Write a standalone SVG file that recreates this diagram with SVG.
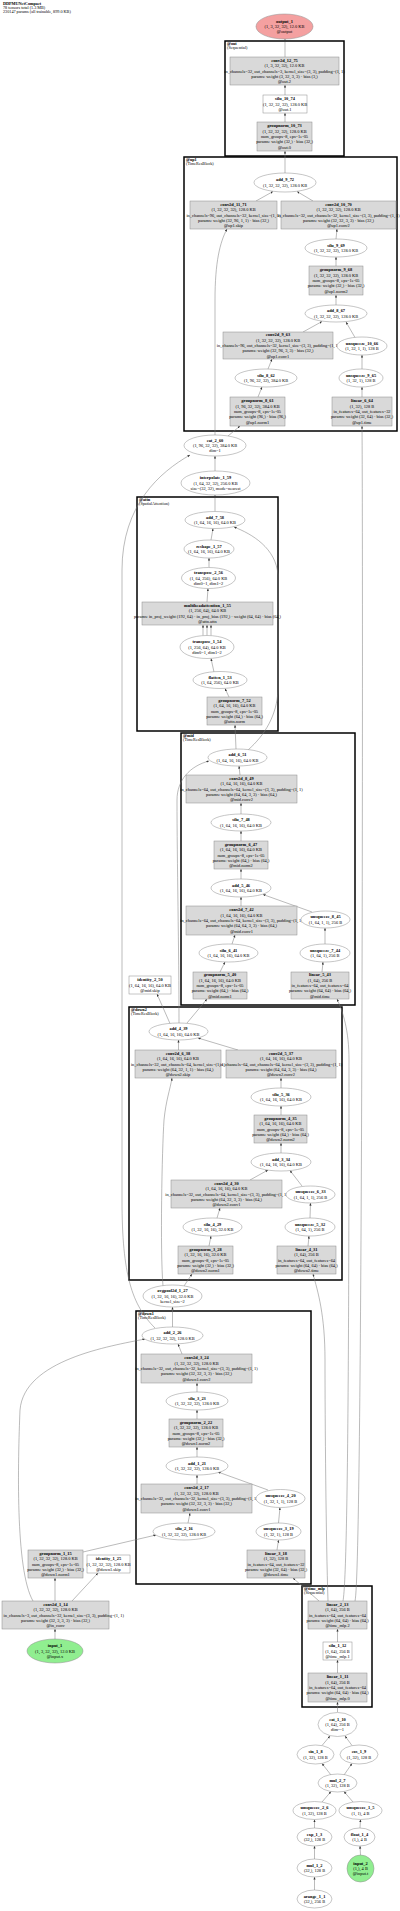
<svg xmlns="http://www.w3.org/2000/svg" width="400" height="1911" viewBox="0 0 400 1911">
<style>
.t{font-family:"Liberation Serif","Times New Roman",serif;font-size:4.4px;text-anchor:middle;fill:#000}
.b{font-weight:bold}
.s{text-anchor:start}
.h{font-family:"Liberation Serif","Times New Roman",serif;font-size:4.2px;fill:#000}
.cl{font-family:"Liberation Serif","Times New Roman",serif;font-size:4.2px;fill:#000}
.box{fill:#d9d9d9;stroke:#8c8c8c;stroke-width:0.5}
.wbox{fill:#ffffff;stroke:#8c8c8c;stroke-width:0.5}
.ell{fill:#ffffff;stroke:#8c8c8c;stroke-width:0.5}
.out{fill:#f4a0a0;stroke:#8c8c8c;stroke-width:0.5}
.inp{fill:#90ee90;stroke:#8c8c8c;stroke-width:0.5}
.clu{fill:none;stroke:#000;stroke-width:1.5}
.e{fill:none;stroke:#777;stroke-width:0.5;marker-end:url(#ah)}
</style>
<defs>
<marker id="ah" markerUnits="userSpaceOnUse" markerWidth="3" markerHeight="3" refX="2.6" refY="1.1" orient="auto">
<path d="M0,0 L2.6,1.1 L0,2.2 z" fill="#333"/>
</marker>
</defs>
<rect width="400" height="1911" fill="#fff"/>
<g id="header">
<text class="h b" x="3" y="4.5">DDPMUNetCompact</text>
<text class="h" x="3" y="8.8">78 tensors total (1.3 MB)</text>
<text class="h" x="3" y="13.1">230147 params (all trainable, 899.0 KB)</text>
</g>
<g id="clusters">
<g id="cluster_out"><rect class="clu" x="225" y="41" width="119" height="115"/><text class="cl b" x="227" y="45">@out</text><text class="cl" x="227" y="49.3">(Sequential)</text></g>
<g id="cluster_up1"><rect class="clu" x="184" y="157" width="213" height="274"/><text class="cl b" x="186" y="161">@up1</text><text class="cl" x="186" y="165.3">(TimeResBlock)</text></g>
<g id="cluster_attn"><rect class="clu" x="137" y="497" width="141" height="234"/><text class="cl b" x="139" y="501">@attn</text><text class="cl" x="139" y="505.3">(SpatialAttention)</text></g>
<g id="cluster_mid"><rect class="clu" x="181" y="733" width="174" height="272"/><text class="cl b" x="183" y="737">@mid</text><text class="cl" x="183" y="741.3">(TimeResBlock)</text></g>
<g id="cluster_down2"><rect class="clu" x="129" y="1007" width="213" height="273"/><text class="cl b" x="131" y="1011">@down2</text><text class="cl" x="131" y="1015.3">(TimeResBlock)</text></g>
<g id="cluster_down1"><rect class="clu" x="136" y="1311" width="175" height="273"/><text class="cl b" x="138" y="1315">@down1</text><text class="cl" x="138" y="1319.3">(TimeResBlock)</text></g>
<g id="cluster_time_mlp"><rect class="clu" x="302" y="1586" width="70" height="121"/><text class="cl b" x="304" y="1590">@time_mlp</text><text class="cl" x="304" y="1594.3">(Sequential)</text></g>
</g>
<g id="connectors">
<path class="e" d="M314.5,1890 L314.5,1877"/>
<path class="e" d="M314.5,1859 L314.5,1846"/>
<path class="e" d="M314.5,1828 L314.5,1819.5"/>
<path class="e" d="M360.5,1855 L360,1846"/>
<path class="e" d="M360,1828 L360.5,1819.5"/>
<path class="e" d="M322,1802 L331,1791.5"/>
<path class="e" d="M353,1802 L344,1791.5"/>
<path class="e" d="M331,1775 L322,1763.5"/>
<path class="e" d="M344,1775 L352,1763.5"/>
<path class="e" d="M322,1745.5 L330,1736"/>
<path class="e" d="M352,1745.5 L345,1736"/>
<path class="e" d="M337.5,1712 L337.5,1702"/>
<path class="e" d="M337.5,1673 L337.5,1660"/>
<path class="e" d="M337.5,1642 L337.5,1629"/>
<path class="e" d="M319,1601 L293,1578"/>
<path class="e" d="M328,1601 C326,1540 325,1420 325,1360 C325,1315 318,1292 313,1274"/>
<path class="e" d="M343,1601 C349,1570 349,1200 349,1060 C349,1030 343,1012 337,999"/>
<path class="e" d="M355,1601 C363,1570 363,520 362,426"/>
<path class="e" d="M55,1639 L55,1629"/>
<path class="e" d="M55,1601 L55,1578"/>
<path class="e" d="M72,1601 L98,1573"/>
<path class="e" d="M33,1601 C15,1570 18,1460 20,1410 C24,1360 110,1346 145,1339"/>
<path class="e" d="M83,1552 L156,1535"/>
<path class="e" d="M188,1523 L190,1513"/>
<path class="e" d="M277,1550 L278.5,1540"/>
<path class="e" d="M278.5,1523 L280,1507.5"/>
<path class="e" d="M197,1484 L197,1475"/>
<path class="e" d="M268,1490 L218,1472"/>
<path class="e" d="M197,1457 L197,1447"/>
<path class="e" d="M197,1419 L197,1410"/>
<path class="e" d="M197,1392 L197,1383"/>
<path class="e" d="M182,1354 L178,1344"/>
<path class="e" d="M172.5,1327 L172.5,1307"/>
<path class="e" d="M155,1328 C132,1305 122,1275 122,1200 L122,570 C122,505 160,472 190,455"/>
<path class="e" d="M184,1286 L192,1274"/>
<path class="e" d="M163,1286 C160,1250 162,1150 164,1120 C166,1100 170,1090 172,1078"/>
<path class="e" d="M209,1246 L211,1236"/>
<path class="e" d="M217,1218 L220,1208"/>
<path class="e" d="M308,1246 L309,1236"/>
<path class="e" d="M310,1218 L310.5,1203"/>
<path class="e" d="M250,1180 L268,1170"/>
<path class="e" d="M302,1186 L290,1170.5"/>
<path class="e" d="M281,1153 L281,1143"/>
<path class="e" d="M281,1115 L281,1106"/>
<path class="e" d="M281,1088 L281,1078"/>
<path class="e" d="M238,1050 L198,1038"/>
<path class="e" d="M178.5,1050 L178.5,1040"/>
<path class="e" d="M187,1023 L207,999"/>
<path class="e" d="M170,1023.5 L157,994"/>
<path class="e" d="M179,1023 C179,950 177,860 177,800 C177,780 190,766 209,761"/>
<path class="e" d="M220,972 L225,962"/>
<path class="e" d="M232,944 L235,935"/>
<path class="e" d="M322,972 L323,962"/>
<path class="e" d="M325,944 L325,928"/>
<path class="e" d="M241,906 L241,897"/>
<path class="e" d="M312,912 L263,894.5"/>
<path class="e" d="M241,879 L241,869"/>
<path class="e" d="M241,841 L241,831"/>
<path class="e" d="M241,814 L241,803"/>
<path class="e" d="M240,775 L239,766"/>
<path class="e" d="M236,749 L235,725"/>
<path class="e" d="M248,750 C265,735 277,715 278,690 L278,575 C276,548 252,534 234,527"/>
<path class="e" d="M229,697 L225,688.5"/>
<path class="e" d="M214,672 L211,658.5"/>
<path class="e" d="M203,635.5 L203,625"/>
<path class="e" d="M207,635.5 L207,625"/>
<path class="e" d="M211,635.5 L211,625"/>
<path class="e" d="M207,602 L208,588.5"/>
<path class="e" d="M209,567.5 L209,558"/>
<path class="e" d="M211,540 L213,528.5"/>
<path class="e" d="M215,511.5 L215,495"/>
<path class="e" d="M215,471 L215,456"/>
<path class="e" d="M228,436 L240,426"/>
<path class="e" d="M215,435 L215,300 C215,262 220,242 227,229"/>
<path class="e" d="M258,397 L262,387"/>
<path class="e" d="M268,369 L272,359"/>
<path class="e" d="M362,397 L362,387"/>
<path class="e" d="M362,369 L362,355"/>
<path class="e" d="M303,332 L322,321.5"/>
<path class="e" d="M355,337.5 L346,322"/>
<path class="e" d="M336,305 L336,295"/>
<path class="e" d="M336,266 L336,257"/>
<path class="e" d="M336,239 L337,229"/>
<path class="e" d="M313,201 L297,191.5"/>
<path class="e" d="M256,201 L273,191.5"/>
<path class="e" d="M285,173 L285,151"/>
<path class="e" d="M285,122 L285,113"/>
<path class="e" d="M285,95 L285,85"/>
<path class="e" d="M285,57 L285,39"/>
</g>
<g id="nodes">
<g id="output_1"><ellipse class="out" cx="284.5" cy="26.5" rx="28.5" ry="12.5"/><text class="t"><tspan class="b" x="284.5" y="22.7">output_1</tspan><tspan x="284.5" y="28">(1, 3, 32, 32), 12.0 KB</tspan><tspan x="284.5" y="33.3">@output</tspan></text></g>
<g id="conv2d_12_75"><rect class="box" x="230" y="57" width="109" height="28"/><text class="t"><tspan class="b" x="284.5" y="61.9">conv2d_12_75</tspan><tspan x="284.5" y="67.2">(1, 3, 32, 32), 12.0 KB</tspan><tspan x="284.5" y="72.5">in_channels=32, out_channels=3, kernel_size=(3, 3), padding=(1, 1)</tspan><tspan x="284.5" y="77.8">params: weight (3, 32, 3, 3) · bias (3,)</tspan><tspan x="284.5" y="83.1">@out.2</tspan></text></g>
<g id="silu_10_74"><rect class="wbox" x="263" y="95" width="44" height="18"/><text class="t"><tspan class="b" x="285" y="100.2">silu_10_74</tspan><tspan x="285" y="105.5">(1, 32, 32, 32), 128.0 KB</tspan><tspan x="285" y="110.8">@out.1</tspan></text></g>
<g id="groupnorm_10_73"><rect class="box" x="257" y="122" width="55" height="29"/><text class="t"><tspan class="b" x="284.5" y="127.4">groupnorm_10_73</tspan><tspan x="284.5" y="132.7">(1, 32, 32, 32), 128.0 KB</tspan><tspan x="284.5" y="138">num_groups=8, eps=1e-05</tspan><tspan x="284.5" y="143.3">params: weight (32,) · bias (32,)</tspan><tspan x="284.5" y="148.6">@out.0</tspan></text></g>
<g id="add_9_72"><ellipse class="ell" cx="285" cy="182.5" rx="31" ry="9.5"/><text class="t"><tspan class="b" x="285" y="181.3">add_9_72</tspan><tspan x="285" y="186.6">(1, 32, 32, 32), 128.0 KB</tspan></text></g>
<g id="conv2d_11_71"><rect class="box" x="190" y="201" width="87" height="28"/><text class="t"><tspan class="b" x="233.5" y="205.9">conv2d_11_71</tspan><tspan x="233.5" y="211.2">(1, 32, 32, 32), 128.0 KB</tspan><tspan x="233.5" y="216.5">in_channels=96, out_channels=32, kernel_size=(1, 1)</tspan><tspan x="233.5" y="221.8">params: weight (32, 96, 1, 1) · bias (32,)</tspan><tspan x="233.5" y="227.1">@up1.skip</tspan></text></g>
<g id="conv2d_10_70"><rect class="box" x="281" y="201" width="115" height="28"/><text class="t"><tspan class="b" x="338.5" y="205.9">conv2d_10_70</tspan><tspan x="338.5" y="211.2">(1, 32, 32, 32), 128.0 KB</tspan><tspan x="338.5" y="216.5">in_channels=32, out_channels=32, kernel_size=(3, 3), padding=(1, 1)</tspan><tspan x="338.5" y="221.8">params: weight (32, 32, 3, 3) · bias (32,)</tspan><tspan x="338.5" y="227.1">@up1.conv2</tspan></text></g>
<g id="silu_9_69"><ellipse class="ell" cx="336" cy="248" rx="31" ry="9"/><text class="t"><tspan class="b" x="336" y="246.8">silu_9_69</tspan><tspan x="336" y="252.1">(1, 32, 32, 32), 128.0 KB</tspan></text></g>
<g id="groupnorm_9_68"><rect class="box" x="309" y="266" width="54" height="29"/><text class="t"><tspan class="b" x="336" y="271.4">groupnorm_9_68</tspan><tspan x="336" y="276.7">(1, 32, 32, 32), 128.0 KB</tspan><tspan x="336" y="282">num_groups=8, eps=1e-05</tspan><tspan x="336" y="287.3">params: weight (32,) · bias (32,)</tspan><tspan x="336" y="292.6">@up1.norm2</tspan></text></g>
<g id="add_8_67"><ellipse class="ell" cx="336" cy="313.5" rx="31" ry="8.5"/><text class="t"><tspan class="b" x="336" y="312.3">add_8_67</tspan><tspan x="336" y="317.6">(1, 32, 32, 32), 128.0 KB</tspan></text></g>
<g id="conv2d_9_63"><rect class="box" x="223" y="332" width="110" height="27"/><text class="t"><tspan class="b" x="278" y="336.4">conv2d_9_63</tspan><tspan x="278" y="341.7">(1, 32, 32, 32), 128.0 KB</tspan><tspan x="278" y="347">in_channels=96, out_channels=32, kernel_size=(3, 3), padding=(1, 1)</tspan><tspan x="278" y="352.3">params: weight (32, 96, 3, 3) · bias (32,)</tspan><tspan x="278" y="357.6">@up1.conv1</tspan></text></g>
<g id="unsqueeze_10_66"><ellipse class="ell" cx="362" cy="346" rx="25" ry="9"/><text class="t"><tspan class="b" x="362" y="344.8">unsqueeze_10_66</tspan><tspan x="362" y="350.1">(1, 32, 1, 1), 128 B</tspan></text></g>
<g id="silu_8_62"><ellipse class="ell" cx="266" cy="378" rx="31" ry="9"/><text class="t"><tspan class="b" x="266" y="376.8">silu_8_62</tspan><tspan x="266" y="382.1">(1, 96, 32, 32), 384.0 KB</tspan></text></g>
<g id="unsqueeze_9_65"><ellipse class="ell" cx="361" cy="378" rx="22" ry="9"/><text class="t"><tspan class="b" x="361" y="376.8">unsqueeze_9_65</tspan><tspan x="361" y="382.1">(1, 32, 1), 128 B</tspan></text></g>
<g id="groupnorm_8_61"><rect class="box" x="230" y="397" width="55" height="29"/><text class="t"><tspan class="b" x="257.5" y="402.4">groupnorm_8_61</tspan><tspan x="257.5" y="407.7">(1, 96, 32, 32), 384.0 KB</tspan><tspan x="257.5" y="413">num_groups=8, eps=1e-05</tspan><tspan x="257.5" y="418.3">params: weight (96,) · bias (96,)</tspan><tspan x="257.5" y="423.6">@up1.norm1</tspan></text></g>
<g id="linear_6_64"><rect class="box" x="332" y="397" width="60" height="29"/><text class="t"><tspan class="b" x="362" y="402.4">linear_6_64</tspan><tspan x="362" y="407.7">(1, 32), 128 B</tspan><tspan x="362" y="413">in_features=64, out_features=32</tspan><tspan x="362" y="418.3">params: weight (32, 64) · bias (32,)</tspan><tspan x="362" y="423.6">@up1.time</tspan></text></g>
<g id="cat_2_60"><ellipse class="ell" cx="215" cy="445.5" rx="31" ry="10.5"/><text class="t"><tspan class="b" x="215" y="441.7">cat_2_60</tspan><tspan x="215" y="447">(1, 96, 32, 32), 384.0 KB</tspan><tspan x="215" y="452.3">dim=1</tspan></text></g>
<g id="interpolate_1_59"><ellipse class="ell" cx="215.5" cy="483" rx="34.5" ry="12"/><text class="t"><tspan class="b" x="215.5" y="479.2">interpolate_1_59</tspan><tspan x="215.5" y="484.5">(1, 64, 32, 32), 256.0 KB</tspan><tspan x="215.5" y="489.8">size=(32, 32), mode=nearest</tspan></text></g>
<g id="add_7_58"><ellipse class="ell" cx="215" cy="520" rx="30" ry="8.5"/><text class="t"><tspan class="b" x="215" y="518.8">add_7_58</tspan><tspan x="215" y="524.1">(1, 64, 16, 16), 64.0 KB</tspan></text></g>
<g id="reshape_1_57"><ellipse class="ell" cx="209" cy="549" rx="25" ry="9"/><text class="t"><tspan class="b" x="209" y="547.8">reshape_1_57</tspan><tspan x="209" y="553.1">(1, 64, 16, 16), 64.0 KB</tspan></text></g>
<g id="transpose_2_56"><ellipse class="ell" cx="208.5" cy="578" rx="27" ry="10.5"/><text class="t"><tspan class="b" x="208.5" y="574.2">transpose_2_56</tspan><tspan x="208.5" y="579.5">(1, 64, 256), 64.0 KB</tspan><tspan x="208.5" y="584.8">dim0=1, dim1=2</tspan></text></g>
<g id="multiheadattention_1_55"><rect class="box" x="142" y="602" width="131" height="23"/><text class="t"><tspan class="b" x="207.5" y="607">multiheadattention_1_55</tspan><tspan x="207.5" y="612.3">(1, 256, 64), 64.0 KB</tspan><tspan x="207.5" y="617.6">params: in_proj_weight (192, 64) · in_proj_bias (192,) · weight (64, 64) · bias (64,)</tspan><tspan x="207.5" y="622.9">@attn.attn</tspan></text></g>
<g id="transpose_1_54"><ellipse class="ell" cx="207" cy="647" rx="27" ry="11.5"/><text class="t"><tspan class="b" x="207" y="643.2">transpose_1_54</tspan><tspan x="207" y="648.5">(1, 256, 64), 64.0 KB</tspan><tspan x="207" y="653.8">dim0=1, dim1=2</tspan></text></g>
<g id="flatten_1_53"><ellipse class="ell" cx="220" cy="680" rx="27" ry="8.5"/><text class="t"><tspan class="b" x="220" y="678.8">flatten_1_53</tspan><tspan x="220" y="684.1">(1, 64, 256), 64.0 KB</tspan></text></g>
<g id="groupnorm_7_52"><rect class="box" x="207" y="697" width="55" height="28"/><text class="t"><tspan class="b" x="234.5" y="701.9">groupnorm_7_52</tspan><tspan x="234.5" y="707.2">(1, 64, 16, 16), 64.0 KB</tspan><tspan x="234.5" y="712.5">num_groups=8, eps=1e-05</tspan><tspan x="234.5" y="717.8">params: weight (64,) · bias (64,)</tspan><tspan x="234.5" y="723.1">@attn.norm</tspan></text></g>
<g id="add_6_51"><ellipse class="ell" cx="237.5" cy="757.5" rx="29.5" ry="8.5"/><text class="t"><tspan class="b" x="237.5" y="756.3">add_6_51</tspan><tspan x="237.5" y="761.6">(1, 64, 16, 16), 64.0 KB</tspan></text></g>
<g id="conv2d_8_49"><rect class="box" x="186" y="775" width="111" height="28"/><text class="t"><tspan class="b" x="241.5" y="779.9">conv2d_8_49</tspan><tspan x="241.5" y="785.2">(1, 64, 16, 16), 64.0 KB</tspan><tspan x="241.5" y="790.5">in_channels=64, out_channels=64, kernel_size=(3, 3), padding=(1, 1)</tspan><tspan x="241.5" y="795.8">params: weight (64, 64, 3, 3) · bias (64,)</tspan><tspan x="241.5" y="801.1">@mid.conv2</tspan></text></g>
<g id="silu_7_48"><ellipse class="ell" cx="241" cy="822.5" rx="30" ry="8.5"/><text class="t"><tspan class="b" x="241" y="821.3">silu_7_48</tspan><tspan x="241" y="826.6">(1, 64, 16, 16), 64.0 KB</tspan></text></g>
<g id="groupnorm_6_47"><rect class="box" x="214" y="841" width="54" height="28"/><text class="t"><tspan class="b" x="241" y="845.9">groupnorm_6_47</tspan><tspan x="241" y="851.2">(1, 64, 16, 16), 64.0 KB</tspan><tspan x="241" y="856.5">num_groups=8, eps=1e-05</tspan><tspan x="241" y="861.8">params: weight (64,) · bias (64,)</tspan><tspan x="241" y="867.1">@mid.norm2</tspan></text></g>
<g id="add_5_46"><ellipse class="ell" cx="241" cy="888" rx="30" ry="9"/><text class="t"><tspan class="b" x="241" y="886.8">add_5_46</tspan><tspan x="241" y="892.1">(1, 64, 16, 16), 64.0 KB</tspan></text></g>
<g id="conv2d_7_42"><rect class="box" x="186" y="906" width="111" height="29"/><text class="t"><tspan class="b" x="241.5" y="911.4">conv2d_7_42</tspan><tspan x="241.5" y="916.7">(1, 64, 16, 16), 64.0 KB</tspan><tspan x="241.5" y="922">in_channels=64, out_channels=64, kernel_size=(3, 3), padding=(1, 1)</tspan><tspan x="241.5" y="927.3">params: weight (64, 64, 3, 3) · bias (64,)</tspan><tspan x="241.5" y="932.6">@mid.conv1</tspan></text></g>
<g id="unsqueeze_8_45"><ellipse class="ell" cx="325.5" cy="919.5" rx="24.5" ry="8.5"/><text class="t"><tspan class="b" x="325.5" y="918.3">unsqueeze_8_45</tspan><tspan x="325.5" y="923.6">(1, 64, 1, 1), 256 B</tspan></text></g>
<g id="silu_6_41"><ellipse class="ell" cx="228.5" cy="953" rx="29.5" ry="9"/><text class="t"><tspan class="b" x="228.5" y="951.8">silu_6_41</tspan><tspan x="228.5" y="957.1">(1, 64, 16, 16), 64.0 KB</tspan></text></g>
<g id="unsqueeze_7_44"><ellipse class="ell" cx="325" cy="953" rx="25" ry="9"/><text class="t"><tspan class="b" x="325" y="951.8">unsqueeze_7_44</tspan><tspan x="325" y="957.1">(1, 64, 1), 256 B</tspan></text></g>
<g id="groupnorm_5_40"><rect class="box" x="193" y="972" width="54" height="27"/><text class="t"><tspan class="b" x="220" y="976.4">groupnorm_5_40</tspan><tspan x="220" y="981.7">(1, 64, 16, 16), 64.0 KB</tspan><tspan x="220" y="987">num_groups=8, eps=1e-05</tspan><tspan x="220" y="992.3">params: weight (64,) · bias (64,)</tspan><tspan x="220" y="997.6">@mid.norm1</tspan></text></g>
<g id="linear_5_43"><rect class="box" x="291" y="972" width="58" height="27"/><text class="t"><tspan class="b" x="320" y="976.4">linear_5_43</tspan><tspan x="320" y="981.7">(1, 64), 256 B</tspan><tspan x="320" y="987">in_features=64, out_features=64</tspan><tspan x="320" y="992.3">params: weight (64, 64) · bias (64,)</tspan><tspan x="320" y="997.6">@mid.time</tspan></text></g>
<g id="identity_2_50"><rect class="wbox" x="129" y="976" width="42" height="18"/><text class="t"><tspan class="b" x="150" y="981.2">identity_2_50</tspan><tspan x="150" y="986.5">(1, 64, 16, 16), 64.0 KB</tspan><tspan x="150" y="991.8">@mid.skip</tspan></text></g>
<g id="add_4_39"><ellipse class="ell" cx="178.5" cy="1031.5" rx="29.5" ry="8.5"/><text class="t"><tspan class="b" x="178.5" y="1030.3">add_4_39</tspan><tspan x="178.5" y="1035.6">(1, 64, 16, 16), 64.0 KB</tspan></text></g>
<g id="conv2d_6_38"><rect class="box" x="135" y="1050" width="86" height="28"/><text class="t"><tspan class="b" x="178" y="1054.9">conv2d_6_38</tspan><tspan x="178" y="1060.2">(1, 64, 16, 16), 64.0 KB</tspan><tspan x="178" y="1065.5">in_channels=32, out_channels=64, kernel_size=(1, 1)</tspan><tspan x="178" y="1070.8">params: weight (64, 32, 1, 1) · bias (64,)</tspan><tspan x="178" y="1076.1">@down2.skip</tspan></text></g>
<g id="conv2d_5_37"><rect class="box" x="226" y="1050" width="110" height="28"/><text class="t"><tspan class="b" x="281" y="1054.9">conv2d_5_37</tspan><tspan x="281" y="1060.2">(1, 64, 16, 16), 64.0 KB</tspan><tspan x="281" y="1065.5">in_channels=64, out_channels=64, kernel_size=(3, 3), padding=(1, 1)</tspan><tspan x="281" y="1070.8">params: weight (64, 64, 3, 3) · bias (64,)</tspan><tspan x="281" y="1076.1">@down2.conv2</tspan></text></g>
<g id="silu_5_36"><ellipse class="ell" cx="281" cy="1097" rx="30" ry="9"/><text class="t"><tspan class="b" x="281" y="1095.8">silu_5_36</tspan><tspan x="281" y="1101.1">(1, 64, 16, 16), 64.0 KB</tspan></text></g>
<g id="groupnorm_4_35"><rect class="box" x="254" y="1115" width="53" height="28"/><text class="t"><tspan class="b" x="280.5" y="1119.9">groupnorm_4_35</tspan><tspan x="280.5" y="1125.2">(1, 64, 16, 16), 64.0 KB</tspan><tspan x="280.5" y="1130.5">num_groups=8, eps=1e-05</tspan><tspan x="280.5" y="1135.8">params: weight (64,) · bias (64,)</tspan><tspan x="280.5" y="1141.1">@down2.norm2</tspan></text></g>
<g id="add_3_34"><ellipse class="ell" cx="281" cy="1162" rx="30" ry="9"/><text class="t"><tspan class="b" x="281" y="1160.8">add_3_34</tspan><tspan x="281" y="1166.1">(1, 64, 16, 16), 64.0 KB</tspan></text></g>
<g id="conv2d_4_30"><rect class="box" x="171" y="1180" width="111" height="28"/><text class="t"><tspan class="b" x="226.5" y="1184.9">conv2d_4_30</tspan><tspan x="226.5" y="1190.2">(1, 64, 16, 16), 64.0 KB</tspan><tspan x="226.5" y="1195.5">in_channels=32, out_channels=64, kernel_size=(3, 3), padding=(1, 1)</tspan><tspan x="226.5" y="1200.8">params: weight (64, 32, 3, 3) · bias (64,)</tspan><tspan x="226.5" y="1206.1">@down2.conv1</tspan></text></g>
<g id="unsqueeze_6_33"><ellipse class="ell" cx="310.5" cy="1194.5" rx="24.5" ry="8.5"/><text class="t"><tspan class="b" x="310.5" y="1193.3">unsqueeze_6_33</tspan><tspan x="310.5" y="1198.6">(1, 64, 1, 1), 256 B</tspan></text></g>
<g id="silu_4_29"><ellipse class="ell" cx="212.5" cy="1227" rx="29.5" ry="9"/><text class="t"><tspan class="b" x="212.5" y="1225.8">silu_4_29</tspan><tspan x="212.5" y="1231.1">(1, 32, 16, 16), 32.0 KB</tspan></text></g>
<g id="unsqueeze_5_32"><ellipse class="ell" cx="310" cy="1227" rx="25" ry="9"/><text class="t"><tspan class="b" x="310" y="1225.8">unsqueeze_5_32</tspan><tspan x="310" y="1231.1">(1, 64, 1), 256 B</tspan></text></g>
<g id="groupnorm_3_28"><rect class="box" x="178" y="1246" width="55" height="28"/><text class="t"><tspan class="b" x="205.5" y="1250.9">groupnorm_3_28</tspan><tspan x="205.5" y="1256.2">(1, 32, 16, 16), 32.0 KB</tspan><tspan x="205.5" y="1261.5">num_groups=8, eps=1e-05</tspan><tspan x="205.5" y="1266.8">params: weight (32,) · bias (32,)</tspan><tspan x="205.5" y="1272.1">@down2.norm1</tspan></text></g>
<g id="linear_4_31"><rect class="box" x="277" y="1246" width="59" height="28"/><text class="t"><tspan class="b" x="306.5" y="1250.9">linear_4_31</tspan><tspan x="306.5" y="1256.2">(1, 64), 256 B</tspan><tspan x="306.5" y="1261.5">in_features=64, out_features=64</tspan><tspan x="306.5" y="1266.8">params: weight (64, 64) · bias (64,)</tspan><tspan x="306.5" y="1272.1">@down2.time</tspan></text></g>
<g id="avgpool2d_1_27"><ellipse class="ell" cx="172.5" cy="1296" rx="29.5" ry="11"/><text class="t"><tspan class="b" x="172.5" y="1292.2">avgpool2d_1_27</tspan><tspan x="172.5" y="1297.5">(1, 32, 16, 16), 32.0 KB</tspan><tspan x="172.5" y="1302.8">kernel_size=2</tspan></text></g>
<g id="add_2_26"><ellipse class="ell" cx="172.5" cy="1335.5" rx="30.5" ry="8.5"/><text class="t"><tspan class="b" x="172.5" y="1334.3">add_2_26</tspan><tspan x="172.5" y="1339.6">(1, 32, 32, 32), 128.0 KB</tspan></text></g>
<g id="conv2d_3_24"><rect class="box" x="141" y="1354" width="111" height="29"/><text class="t"><tspan class="b" x="196.5" y="1359.4">conv2d_3_24</tspan><tspan x="196.5" y="1364.7">(1, 32, 32, 32), 128.0 KB</tspan><tspan x="196.5" y="1370">in_channels=32, out_channels=32, kernel_size=(3, 3), padding=(1, 1)</tspan><tspan x="196.5" y="1375.3">params: weight (32, 32, 3, 3) · bias (32,)</tspan><tspan x="196.5" y="1380.6">@down1.conv2</tspan></text></g>
<g id="silu_3_23"><ellipse class="ell" cx="197" cy="1401" rx="31" ry="9"/><text class="t"><tspan class="b" x="197" y="1399.8">silu_3_23</tspan><tspan x="197" y="1405.1">(1, 32, 32, 32), 128.0 KB</tspan></text></g>
<g id="groupnorm_2_22"><rect class="box" x="169" y="1419" width="54" height="28"/><text class="t"><tspan class="b" x="196" y="1423.9">groupnorm_2_22</tspan><tspan x="196" y="1429.2">(1, 32, 32, 32), 128.0 KB</tspan><tspan x="196" y="1434.5">num_groups=8, eps=1e-05</tspan><tspan x="196" y="1439.8">params: weight (32,) · bias (32,)</tspan><tspan x="196" y="1445.1">@down1.norm2</tspan></text></g>
<g id="add_1_21"><ellipse class="ell" cx="197" cy="1466" rx="31" ry="9"/><text class="t"><tspan class="b" x="197" y="1464.8">add_1_21</tspan><tspan x="197" y="1470.1">(1, 32, 32, 32), 128.0 KB</tspan></text></g>
<g id="conv2d_2_17"><rect class="box" x="141" y="1484" width="111" height="29"/><text class="t"><tspan class="b" x="196.5" y="1489.4">conv2d_2_17</tspan><tspan x="196.5" y="1494.7">(1, 32, 32, 32), 128.0 KB</tspan><tspan x="196.5" y="1500">in_channels=32, out_channels=32, kernel_size=(3, 3), padding=(1, 1)</tspan><tspan x="196.5" y="1505.3">params: weight (32, 32, 3, 3) · bias (32,)</tspan><tspan x="196.5" y="1510.6">@down1.conv1</tspan></text></g>
<g id="unsqueeze_4_20"><ellipse class="ell" cx="280.5" cy="1498.5" rx="24.5" ry="9"/><text class="t"><tspan class="b" x="280.5" y="1497.3">unsqueeze_4_20</tspan><tspan x="280.5" y="1502.6">(1, 32, 1, 1), 128 B</tspan></text></g>
<g id="silu_2_16"><ellipse class="ell" cx="184" cy="1531.5" rx="31" ry="8.5"/><text class="t"><tspan class="b" x="184" y="1530.3">silu_2_16</tspan><tspan x="184" y="1535.6">(1, 32, 32, 32), 128.0 KB</tspan></text></g>
<g id="unsqueeze_3_19"><ellipse class="ell" cx="278.5" cy="1531.5" rx="22.5" ry="8.5"/><text class="t"><tspan class="b" x="278.5" y="1530.3">unsqueeze_3_19</tspan><tspan x="278.5" y="1535.6">(1, 32, 1), 128 B</tspan></text></g>
<g id="groupnorm_1_15"><rect class="box" x="28" y="1550" width="55" height="28"/><text class="t"><tspan class="b" x="55.5" y="1554.9">groupnorm_1_15</tspan><tspan x="55.5" y="1560.2">(1, 32, 32, 32), 128.0 KB</tspan><tspan x="55.5" y="1565.5">num_groups=8, eps=1e-05</tspan><tspan x="55.5" y="1570.8">params: weight (32,) · bias (32,)</tspan><tspan x="55.5" y="1576.1">@down1.norm1</tspan></text></g>
<g id="identity_1_25"><rect class="wbox" x="87" y="1555" width="43" height="18"/><text class="t"><tspan class="b" x="108.5" y="1560.2">identity_1_25</tspan><tspan x="108.5" y="1565.5">(1, 32, 32, 32), 128.0 KB</tspan><tspan x="108.5" y="1570.8">@down1.skip</tspan></text></g>
<g id="linear_3_18"><rect class="box" x="247" y="1550" width="58" height="28"/><text class="t"><tspan class="b" x="276" y="1554.9">linear_3_18</tspan><tspan x="276" y="1560.2">(1, 32), 128 B</tspan><tspan x="276" y="1565.5">in_features=64, out_features=32</tspan><tspan x="276" y="1570.8">params: weight (32, 64) · bias (32,)</tspan><tspan x="276" y="1576.1">@down1.time</tspan></text></g>
<g id="conv2d_1_14"><rect class="box" x="2" y="1601" width="107" height="28"/><text class="t"><tspan class="b" x="55.5" y="1605.9">conv2d_1_14</tspan><tspan x="55.5" y="1611.2">(1, 32, 32, 32), 128.0 KB</tspan><tspan class="s" x="3.5" y="1616.5">in_channels=3, out_channels=32, kernel_size=(3, 3), padding=(1, 1)</tspan><tspan x="55.5" y="1621.8">params: weight (32, 3, 3, 3) · bias (32,)</tspan><tspan x="55.5" y="1627.1">@in_conv</tspan></text></g>
<g id="input_1"><ellipse class="inp" cx="55" cy="1651" rx="28" ry="12"/><text class="t"><tspan class="b" x="55" y="1647.2">input_1</tspan><tspan x="55" y="1652.5">(1, 3, 32, 32), 12.0 KB</tspan><tspan x="55" y="1657.8">@input.x</tspan></text></g>
<g id="linear_2_13"><rect class="box" x="308" y="1601" width="59" height="28"/><text class="t"><tspan class="b" x="337.5" y="1605.9">linear_2_13</tspan><tspan x="337.5" y="1611.2">(1, 64), 256 B</tspan><tspan x="337.5" y="1616.5">in_features=64, out_features=64</tspan><tspan x="337.5" y="1621.8">params: weight (64, 64) · bias (64,)</tspan><tspan x="337.5" y="1627.1">@time_mlp.2</tspan></text></g>
<g id="silu_1_12"><rect class="wbox" x="323" y="1642" width="29" height="18"/><text class="t"><tspan class="b" x="337.5" y="1647.2">silu_1_12</tspan><tspan x="337.5" y="1652.5">(1, 64), 256 B</tspan><tspan x="337.5" y="1657.8">@time_mlp.1</tspan></text></g>
<g id="linear_1_11"><rect class="box" x="308" y="1673" width="59" height="29"/><text class="t"><tspan class="b" x="337.5" y="1678.4">linear_1_11</tspan><tspan x="337.5" y="1683.7">(1, 64), 256 B</tspan><tspan x="337.5" y="1689">in_features=64, out_features=64</tspan><tspan x="337.5" y="1694.3">params: weight (64, 64) · bias (64,)</tspan><tspan x="337.5" y="1699.6">@time_mlp.0</tspan></text></g>
<g id="cat_1_10"><ellipse class="ell" cx="337.5" cy="1724.5" rx="19.5" ry="12"/><text class="t"><tspan class="b" x="337.5" y="1720.7">cat_1_10</tspan><tspan x="337.5" y="1726">(1, 64), 256 B</tspan><tspan x="337.5" y="1731.3">dim=-1</tspan></text></g>
<g id="sin_1_8"><ellipse class="ell" cx="315.5" cy="1754.5" rx="18.5" ry="9.5"/><text class="t"><tspan class="b" x="315.5" y="1753.3">sin_1_8</tspan><tspan x="315.5" y="1758.6">(1, 32), 128 B</tspan></text></g>
<g id="cos_1_9"><ellipse class="ell" cx="359" cy="1754.5" rx="19" ry="9.5"/><text class="t"><tspan class="b" x="359" y="1753.3">cos_1_9</tspan><tspan x="359" y="1758.6">(1, 32), 128 B</tspan></text></g>
<g id="mul_2_7"><ellipse class="ell" cx="337.5" cy="1783" rx="19.5" ry="9"/><text class="t"><tspan class="b" x="337.5" y="1781.8">mul_2_7</tspan><tspan x="337.5" y="1787.1">(1, 32), 128 B</tspan></text></g>
<g id="unsqueeze_2_6"><ellipse class="ell" cx="314.5" cy="1810.5" rx="21.5" ry="9"/><text class="t"><tspan class="b" x="314.5" y="1809.3">unsqueeze_2_6</tspan><tspan x="314.5" y="1814.6">(1, 32), 128 B</tspan></text></g>
<g id="unsqueeze_1_5"><ellipse class="ell" cx="360.5" cy="1810.5" rx="21.5" ry="9"/><text class="t"><tspan class="b" x="360.5" y="1809.3">unsqueeze_1_5</tspan><tspan x="360.5" y="1814.6">(1, 1), 4 B</tspan></text></g>
<g id="exp_1_3"><ellipse class="ell" cx="314.5" cy="1837" rx="17.5" ry="9"/><text class="t"><tspan class="b" x="314.5" y="1835.8">exp_1_3</tspan><tspan x="314.5" y="1841.1">(32,), 128 B</tspan></text></g>
<g id="float_1_4"><ellipse class="ell" cx="359.5" cy="1837" rx="15.5" ry="9"/><text class="t"><tspan class="b" x="359.5" y="1835.8">float_1_4</tspan><tspan x="359.5" y="1841.1">(1,), 4 B</tspan></text></g>
<g id="mul_1_2"><ellipse class="ell" cx="314.5" cy="1868" rx="17.5" ry="9"/><text class="t"><tspan class="b" x="314.5" y="1866.8">mul_1_2</tspan><tspan x="314.5" y="1872.1">(32,), 128 B</tspan></text></g>
<g id="input_2"><circle class="inp" cx="360.5" cy="1868.5" r="13.5"/><text class="t"><tspan class="b" x="360.5" y="1864.7">input_2</tspan><tspan x="360.5" y="1870">(1,), 4 B</tspan><tspan x="360.5" y="1875.3">@input.t</tspan></text></g>
<g id="arange_1_1"><ellipse class="ell" cx="314.5" cy="1899" rx="17.5" ry="9"/><text class="t"><tspan class="b" x="314.5" y="1897.8">arange_1_1</tspan><tspan x="314.5" y="1903.1">(32,), 256 B</tspan></text></g>
</g>
</svg>
